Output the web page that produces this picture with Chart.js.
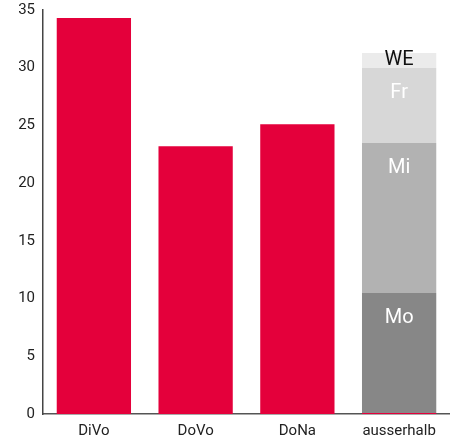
<!DOCTYPE html>
<html>
<head>
<meta charset="utf-8">
<script src="https://cdn.jsdelivr.net/npm/chart.js@4"></script>
<style>
  html, body { margin: 0; padding: 0; background: #fff; }
  #wrap { width: 450px; height: 446px; }
</style>
</head>
<body>
<div id="wrap"><canvas id="barChart"></canvas></div>
<script>
const categories = ['DiVo', 'DoVo', 'DoNa', 'ausserhalb'];
const mainValues = [34.3, 23.2, 25.1, 0.08];
const moValues = [null, null, null, 10.4];
const miValues = [null, null, null, 13.0];
const frValues = [null, null, null, 6.5];
const weValues = [null, null, null, 1.3];

const FONT = 'Roboto, "DejaVu Sans", sans-serif';

// draws the day labels inside the stacked segments
const segmentLabels = {
    id: 'segmentLabels',
    afterDatasetsDraw(chart) {
        const ctx = chart.ctx;
        ctx.save();
        ctx.font = '20px ' + FONT;
        ctx.textAlign = 'center';
        ctx.textBaseline = 'middle';
        chart.data.datasets.forEach((ds, i) => {
            if (!ds.segLabel) return;
            chart.getDatasetMeta(i).data.forEach((bar, j) => {
                if (ds.data[j] == null) return;
                const top = bar.y, bottom = bar.base;
                const y = Math.min(top + 25, (top + bottom) / 2);
                ctx.fillStyle = ds.segColor;
                ctx.fillText(ds.segLabel, bar.x, y);
            });
        });
        ctx.restore();
    }
};

const ctx = document.getElementById('barChart').getContext('2d');
const barChart = new Chart(ctx, {
    type: 'bar',
    data: {
        labels: categories,
        datasets: [
            { label: 'Gesamt', data: mainValues, backgroundColor: '#e4003b' },
            { label: 'Mo', data: moValues, backgroundColor: '#878787', segLabel: 'Mo', segColor: '#ffffff' },
            { label: 'Mi', data: miValues, backgroundColor: '#b2b2b2', segLabel: 'Mi', segColor: '#ffffff' },
            { label: 'Fr', data: frValues, backgroundColor: '#d7d7d7', segLabel: 'Fr', segColor: '#ffffff' },
            { label: 'WE', data: weValues, backgroundColor: '#ebebeb', segLabel: 'WE', segColor: '#111111' }
        ]
    },
    options: {
        responsive: true, maintainAspectRatio: false, animation: false,
        layout: { padding: { top: 10, bottom: 0, right: 0, left: 0 } },
        datasets: { bar: { categoryPercentage: 1, barPercentage: 0.73, grouped: false } },
        scales: {
            x: {
                stacked: true,
                grid: { display: false, drawTicks: false },
                border: { color: '#555', width: 1.5 },
                ticks: { color: '#222', font: { family: FONT, size: 15 }, padding: 8 },
                afterFit: (s) => { s.height = 32; }
            },
            y: {
                stacked: true, min: 0, max: 35,
                grid: { display: false, drawTicks: false },
                border: { color: '#444', width: 1.5 },
                ticks: { stepSize: 5, color: '#222', font: { family: FONT, size: 15 }, padding: 8 },
                afterFit: (s) => { s.width = 43; s.paddingTop = 0; s.paddingBottom = 0; }
            }
        },
        plugins: { legend: { display: false }, tooltip: { enabled: false } }
    },
    plugins: [segmentLabels]
});
</script>
</body>
</html>
